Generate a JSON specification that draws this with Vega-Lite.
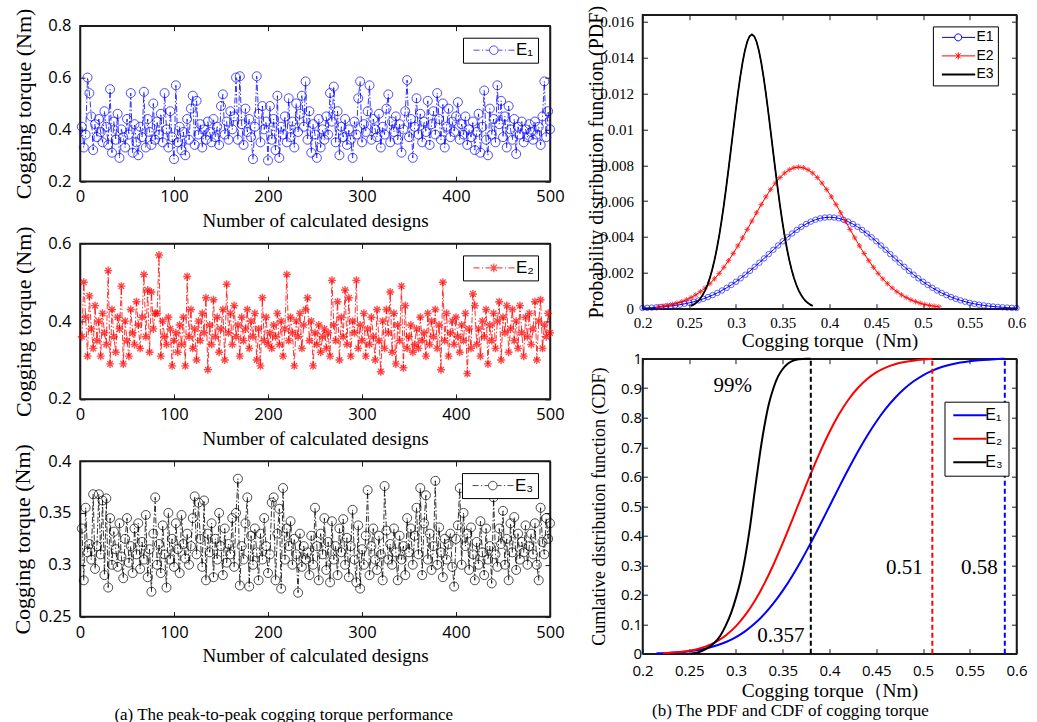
{
"$schema": "https://vega.github.io/schema/vega-lite/v6.json",
"background": "white",
"padding": {"left": 10, "top": 3.7, "right": 0, "bottom": 0},
"spacing": 20.5,
"resolve": {"scale": {"color": "independent"}, "legend": {"color": "independent"}},
"hconcat": [
{
"bounds": "flush",
"spacing": 10,
"resolve": {"scale": {"color": "independent"}, "legend": {"color": "independent"}},
"title": {"text": "(a) The peak-to-peak cogging torque performance", "orient": "bottom", "anchor": "middle", "offset": 40, "dx": -4, "fontSize": 17},
"vconcat": [
{"width": 470, "height": 1, "data": {"values": []}, "mark": "point", "view": {"stroke": null}},
{
"bounds": "flush",
"spacing": 61.7,
"resolve": {"scale": {"color": "independent"}, "legend": {"color": "independent"}},
"vconcat": [
{
"width": 470, "height": 155.5,
"data": {"name": "e1"},
"layer": [
{"mark": {"type": "line", "color": "#0000ff", "strokeWidth": 0.8, "strokeDash": [6, 2, 1.5, 2]},
"encoding": {
"x": {"field": "i", "type": "quantitative", "scale": {"domain": [0, 500], "nice": false}, "axis": {"values": [0, 100, 200, 300, 400, 500], "title": "Number of calculated designs"}},
"y": {"field": "v", "type": "quantitative", "scale": {"domain": [0.2, 0.8], "nice": false, "zero": false}, "axis": {"values": [0.2, 0.4, 0.6, 0.8], "title": "Cogging torque (Nm)", "titleFontSize": 22, "titlePadding": 12}}}},
{"mark": {"type": "point", "shape": "circle", "filled": false, "size": 81, "strokeWidth": 1},
"encoding": {
"x": {"field": "i", "type": "quantitative", "axis": {"orient": "top", "values": [0, 100, 200, 300, 400, 500], "labels": false, "title": null}},
"y": {"field": "v", "type": "quantitative", "axis": {"orient": "right", "values": [0.2, 0.4, 0.6, 0.8], "labels": false, "title": null}},
"color": {"datum": "E₁", "type": "nominal", "scale": {"range": ["#0000ff"]}, "legend": {"title": null, "symbolType": "M-1,0H2M3.2,0H3.8M5,0H7M7,0A2.15,2.15 0 1,1 11.3,0A2.15,2.15 0 1,1 7,0M11.3,0H13.5M14.7,0H15.3M16.5,0H19.5"}}}}
],
"resolve": {"axis": {"x": "independent", "y": "independent"}}
},
{
"width": 470, "height": 155.5,
"data": {"name": "e2"},
"layer": [
{"mark": {"type": "line", "color": "#ff0000", "strokeWidth": 0.8, "strokeDash": [6, 2, 1.5, 2]},
"encoding": {
"x": {"field": "i", "type": "quantitative", "scale": {"domain": [0, 500], "nice": false}, "axis": {"values": [0, 100, 200, 300, 400, 500], "title": "Number of calculated designs"}},
"y": {"field": "v", "type": "quantitative", "scale": {"domain": [0.2, 0.6], "nice": false, "zero": false}, "axis": {"values": [0.2, 0.4, 0.6], "title": "Cogging torque (Nm)", "titleFontSize": 22, "titlePadding": 12}}}},
{"mark": {"type": "point", "shape": "M-1,0H1M0,-1V1M-0.71,-0.71L0.71,0.71M-0.71,0.71L0.71,-0.71", "filled": false, "size": 64, "strokeWidth": 1.4},
"encoding": {
"x": {"field": "i", "type": "quantitative", "axis": {"orient": "top", "values": [0, 100, 200, 300, 400, 500], "labels": false, "title": null}},
"y": {"field": "v", "type": "quantitative", "axis": {"orient": "right", "values": [0.2, 0.4, 0.6], "labels": false, "title": null}},
"color": {"datum": "E₂", "type": "nominal", "scale": {"range": ["#ff0000"]}, "legend": {"title": null, "symbolStrokeWidth": 1.2, "symbolType": "M-1,0H2M3.2,0H3.8M5,0H11.3M9.15,-2.2V2.2M7.6,-1.55L10.7,1.55M7.6,1.55L10.7,-1.55M11.3,0H13.5M14.7,0H15.3M16.5,0H19.5"}}}}
],
"resolve": {"axis": {"x": "independent", "y": "independent"}}
},
{
"width": 470, "height": 155.5,
"data": {"name": "e3"},
"layer": [
{"mark": {"type": "line", "color": "#000000", "strokeWidth": 0.8, "strokeDash": [6, 2, 1.5, 2]},
"encoding": {
"x": {"field": "i", "type": "quantitative", "scale": {"domain": [0, 500], "nice": false}, "axis": {"values": [0, 100, 200, 300, 400, 500], "title": "Number of calculated designs"}},
"y": {"field": "v", "type": "quantitative", "scale": {"domain": [0.25, 0.4], "nice": false, "zero": false}, "axis": {"values": [0.25, 0.3, 0.35, 0.4], "title": "Cogging torque (Nm)", "titleFontSize": 22, "titlePadding": 4}}}},
{"mark": {"type": "point", "shape": "circle", "filled": false, "size": 81, "strokeWidth": 1},
"encoding": {
"x": {"field": "i", "type": "quantitative", "axis": {"orient": "top", "values": [0, 100, 200, 300, 400, 500], "labels": false, "title": null}},
"y": {"field": "v", "type": "quantitative", "axis": {"orient": "right", "values": [0.25, 0.3, 0.35, 0.4], "labels": false, "title": null}},
"color": {"datum": "E₃", "type": "nominal", "scale": {"range": ["#000000"]}, "legend": {"title": null, "symbolType": "M-1,0H2M3.2,0H3.8M5,0H7M7,0A2.15,2.15 0 1,1 11.3,0A2.15,2.15 0 1,1 7,0M11.3,0H13.5M14.7,0H15.3M16.5,0H19.5"}}}}
],
"resolve": {"axis": {"x": "independent", "y": "independent"}}
}
]
}
]
},
{
"bounds": "flush",
"spacing": 50,
"resolve": {"scale": {"color": "independent"}, "legend": {"color": "independent"}},
"title": {"text": "(b) The PDF and CDF of cogging torque", "orient": "bottom", "anchor": "middle", "offset": 3, "dx": -16.5, "fontSize": 17},
"vconcat": [
{
"width": 374, "height": 294,
"data": {"name": "pdf"},
"layer": [
{"mark": {"type": "line", "strokeWidth": 1},
"encoding": {
"x": {"field": "x", "type": "quantitative", "scale": {"domain": [0.2, 0.6], "nice": false, "zero": false}, "axis": {"values": [0.2, 0.25, 0.3, 0.35, 0.4, 0.45, 0.5, 0.55, 0.6], "labelFont": "Liberation Serif", "labelFontSize": 15, "labelPadding": 12, "title": "Cogging torque（Nm)", "titleFontSize": 19.5, "titlePadding": 1}},
"y": {"field": "p", "type": "quantitative", "scale": {"domain": [0, 0.0164], "nice": false}, "axis": {"values": [0, 0.002, 0.004, 0.006, 0.008, 0.01, 0.012, 0.014, 0.016], "labelFont": "Liberation Serif", "labelFontSize": 15, "labelPadding": 14, "title": "Probability distribution function (PDF)", "titleFontSize": 20, "titlePadding": -7}},
"color": {"field": "s", "type": "nominal", "scale": {"domain": ["E1", "E2", "E3"], "range": ["#0000ff", "#ff0000", "#000000"]},
"legend": {"title": null, "orient": "none", "legendX": 290.4, "legendY": 11.7, "padding": 4, "rowPadding": 4.5, "labelFontSize": 14, "labelOffset": 25.6, "symbolSize": 16,
"labelExpr": "datum.label + '     '",
"encode": {"symbols": {"update": {"shape": {"signal": "datum.value === 'E1' ? 'M-1,0H5.4M5.4,0A1.75,1.75 0 1,1 8.9,0A1.75,1.75 0 1,1 5.4,0M8.9,0H15.65' : datum.value === 'E2' ? 'M-1,0H15.65M7.15,-1.8V1.8M5.9,-1.25L8.4,1.25M5.9,1.25L8.4,-1.25' : 'M-1,0H15.65'"}, "strokeWidth": {"signal": "datum.value === 'E3' ? 2 : 1"}, "fill": {"value": "transparent"}}}}}}}},
{"transform": [{"filter": "datum.s === 'E1'"}],
"mark": {"type": "point", "shape": "circle", "filled": false, "size": 30, "strokeWidth": 0.9, "color": "#0000ff"},
"encoding": {
"x": {"field": "x", "type": "quantitative", "axis": {"orient": "top", "values": [0.2, 0.25, 0.3, 0.35, 0.4, 0.45, 0.5, 0.55, 0.6], "labels": false, "title": null}},
"y": {"field": "p", "type": "quantitative", "axis": {"orient": "right", "values": [0, 0.002, 0.004, 0.006, 0.008, 0.01, 0.012, 0.014, 0.016], "labels": false, "title": null}}}},
{"transform": [{"filter": "datum.s === 'E2'"}],
"mark": {"type": "point", "shape": "M-1,0H1M0,-1V1M-0.71,-0.71L0.71,0.71M-0.71,0.71L0.71,-0.71", "filled": false, "size": 30, "strokeWidth": 1, "color": "#ff0000"},
"encoding": {
"x": {"field": "x", "type": "quantitative", "axis": null},
"y": {"field": "p", "type": "quantitative", "axis": null}}},
{"transform": [{"filter": "datum.s === 'E3'"}],
"mark": {"type": "line", "color": "#000000", "strokeWidth": 1.8},
"encoding": {
"x": {"field": "x", "type": "quantitative", "axis": null},
"y": {"field": "p", "type": "quantitative", "axis": null}}}
],
"resolve": {"axis": {"x": "independent", "y": "independent"}}
},
{
"width": 374, "height": 295,
"layer": [
{"data": {"name": "cdf"},
"mark": {"type": "line", "strokeWidth": 2, "interpolate": "monotone"},
"encoding": {
"x": {"field": "x", "type": "quantitative", "scale": {"domain": [0.2, 0.6], "nice": false, "zero": false}, "axis": {"values": [0.2, 0.25, 0.3, 0.35, 0.4, 0.45, 0.5, 0.55, 0.6], "labelFontSize": 15, "labelPadding": 15, "title": "Cogging torque（Nm)", "titleFontSize": 19.5, "titlePadding": 2.5}},
"y": {"field": "c", "type": "quantitative", "scale": {"domain": [0, 1], "nice": false}, "axis": {"values": [0, 0.1, 0.2, 0.3, 0.4, 0.5, 0.6, 0.7, 0.8, 0.9, 1], "labelFontSize": 15, "labelPadding": 6, "title": "Cumlative distribution function (CDF)", "titleFontSize": 18, "titlePadding": 12}},
"color": {"field": "s", "type": "nominal", "scale": {"domain": ["E1", "E2", "E3"], "range": ["#0000ff", "#ff0000", "#000000"]},
"legend": {"title": null, "orient": "none", "legendX": 302, "legendY": 43, "padding": 5.5, "rowPadding": 7.5, "labelFontSize": 16, "labelOffset": 19.3, "symbolSize": 16, "symbolType": "M-2.35,0H14.3", "symbolStrokeWidth": 2,
"labelExpr": "datum.label === 'E1' ? 'E₁' : datum.label === 'E2' ? 'E₂' : 'E₃'"}}}},
{"data": {"name": "vl"},
"mark": {"type": "rule", "strokeWidth": 2, "strokeDash": [5, 3]},
"encoding": {
"x": {"field": "x", "type": "quantitative", "axis": null},
"y": {"datum": 0, "type": "quantitative", "axis": null},
"y2": {"datum": 1},
"color": {"field": "s", "type": "nominal"}}},
{"data": {"name": "ann"},
"mark": {"type": "text", "font": "Liberation Serif", "fontSize": 21, "color": "#000000"},
"encoding": {
"x": {"field": "x", "type": "quantitative", "axis": {"orient": "top", "values": [0.2, 0.25, 0.3, 0.35, 0.4, 0.45, 0.5, 0.55, 0.6], "labels": false, "title": null}},
"y": {"field": "y", "type": "quantitative", "axis": {"orient": "right", "values": [0, 0.1, 0.2, 0.3, 0.4, 0.5, 0.6, 0.7, 0.8, 0.9, 1], "labels": false, "title": null}},
"text": {"field": "t"}}}
],
"resolve": {"axis": {"x": "independent", "y": "independent"}}
}
]
}
],
"datasets": {
"e1": [
{"i":2,"v":0.41},{"i":4,"v":0.33},{"i":6,"v":0.38},{"i":8,"v":0.6},{"i":10,"v":0.54},{"i":12,"v":0.45},{"i":14,"v":0.32},{"i":16,"v":0.42},{"i":18,"v":0.37},{"i":20,"v":0.44},
{"i":22,"v":0.39},{"i":24,"v":0.35},{"i":26,"v":0.47},{"i":28,"v":0.41},{"i":30,"v":0.34},{"i":32,"v":0.555},{"i":34,"v":0.31},{"i":36,"v":0.43},{"i":38,"v":0.36},{"i":40,"v":0.46},
{"i":42,"v":0.29},{"i":44,"v":0.4},{"i":46,"v":0.37},{"i":48,"v":0.33},{"i":50,"v":0.44},{"i":52,"v":0.38},{"i":54,"v":0.54},{"i":56,"v":0.31},{"i":58,"v":0.42},{"i":60,"v":0.35},
{"i":62,"v":0.3},{"i":64,"v":0.41},{"i":66,"v":0.37},{"i":68,"v":0.545},{"i":70,"v":0.33},{"i":72,"v":0.44},{"i":74,"v":0.39},{"i":76,"v":0.34},{"i":78,"v":0.5},{"i":80,"v":0.36},
{"i":82,"v":0.43},{"i":84,"v":0.38},{"i":86,"v":0.46},{"i":88,"v":0.35},{"i":90,"v":0.54},{"i":92,"v":0.4},{"i":94,"v":0.33},{"i":96,"v":0.47},{"i":98,"v":0.37},{"i":100,"v":0.285},
{"i":102,"v":0.57},{"i":104,"v":0.35},{"i":106,"v":0.41},{"i":108,"v":0.32},{"i":110,"v":0.39},{"i":112,"v":0.3},{"i":114,"v":0.44},{"i":116,"v":0.36},{"i":118,"v":0.48},{"i":120,"v":0.53},
{"i":122,"v":0.34},{"i":124,"v":0.51},{"i":126,"v":0.38},{"i":128,"v":0.42},{"i":130,"v":0.33},{"i":132,"v":0.4},{"i":134,"v":0.36},{"i":136,"v":0.43},{"i":138,"v":0.39},{"i":140,"v":0.35},
{"i":142,"v":0.44},{"i":144,"v":0.37},{"i":146,"v":0.41},{"i":148,"v":0.34},{"i":150,"v":0.49},{"i":152,"v":0.535},{"i":154,"v":0.38},{"i":156,"v":0.43},{"i":158,"v":0.36},{"i":160,"v":0.47},
{"i":162,"v":0.4},{"i":164,"v":0.45},{"i":166,"v":0.6},{"i":168,"v":0.36},{"i":170,"v":0.605},{"i":172,"v":0.42},{"i":174,"v":0.34},{"i":176,"v":0.48},{"i":178,"v":0.39},{"i":180,"v":0.44},
{"i":182,"v":0.37},{"i":184,"v":0.285},{"i":186,"v":0.41},{"i":188,"v":0.605},{"i":190,"v":0.46},{"i":192,"v":0.35},{"i":194,"v":0.49},{"i":196,"v":0.4},{"i":198,"v":0.43},{"i":200,"v":0.28},
{"i":202,"v":0.49},{"i":204,"v":0.36},{"i":206,"v":0.44},{"i":208,"v":0.32},{"i":210,"v":0.53},{"i":212,"v":0.29},{"i":214,"v":0.41},{"i":216,"v":0.38},{"i":218,"v":0.45},{"i":220,"v":0.35},
{"i":222,"v":0.52},{"i":224,"v":0.37},{"i":226,"v":0.43},{"i":228,"v":0.33},{"i":230,"v":0.5},{"i":232,"v":0.39},{"i":234,"v":0.46},{"i":236,"v":0.53},{"i":238,"v":0.41},{"i":240,"v":0.585},
{"i":242,"v":0.36},{"i":244,"v":0.47},{"i":246,"v":0.31},{"i":248,"v":0.42},{"i":250,"v":0.38},{"i":252,"v":0.29},{"i":254,"v":0.44},{"i":256,"v":0.33},{"i":258,"v":0.4},{"i":260,"v":0.36},
{"i":262,"v":0.45},{"i":264,"v":0.38},{"i":266,"v":0.54},{"i":268,"v":0.43},{"i":270,"v":0.565},{"i":272,"v":0.35},{"i":274,"v":0.47},{"i":276,"v":0.3},{"i":278,"v":0.41},{"i":280,"v":0.37},
{"i":282,"v":0.44},{"i":284,"v":0.34},{"i":286,"v":0.4},{"i":288,"v":0.36},{"i":290,"v":0.29},{"i":292,"v":0.43},{"i":294,"v":0.38},{"i":296,"v":0.52},{"i":298,"v":0.585},{"i":300,"v":0.35},
{"i":302,"v":0.42},{"i":304,"v":0.39},{"i":306,"v":0.47},{"i":308,"v":0.57},{"i":310,"v":0.36},{"i":312,"v":0.44},{"i":314,"v":0.4},{"i":316,"v":0.37},{"i":318,"v":0.46},{"i":320,"v":0.33},
{"i":322,"v":0.41},{"i":324,"v":0.38},{"i":326,"v":0.48},{"i":328,"v":0.535},{"i":330,"v":0.35},{"i":332,"v":0.43},{"i":334,"v":0.39},{"i":336,"v":0.45},{"i":338,"v":0.36},{"i":340,"v":0.42},
{"i":342,"v":0.31},{"i":344,"v":0.4},{"i":346,"v":0.47},{"i":348,"v":0.59},{"i":350,"v":0.37},{"i":352,"v":0.44},{"i":354,"v":0.29},{"i":356,"v":0.41},{"i":358,"v":0.52},{"i":360,"v":0.38},
{"i":362,"v":0.46},{"i":364,"v":0.35},{"i":366,"v":0.43},{"i":368,"v":0.39},{"i":370,"v":0.51},{"i":372,"v":0.34},{"i":374,"v":0.42},{"i":376,"v":0.47},{"i":378,"v":0.38},{"i":380,"v":0.54},
{"i":382,"v":0.44},{"i":384,"v":0.36},{"i":386,"v":0.5},{"i":388,"v":0.33},{"i":390,"v":0.41},{"i":392,"v":0.48},{"i":394,"v":0.37},{"i":396,"v":0.43},{"i":398,"v":0.39},{"i":400,"v":0.45},
{"i":402,"v":0.505},{"i":404,"v":0.36},{"i":406,"v":0.42},{"i":408,"v":0.38},{"i":410,"v":0.45},{"i":412,"v":0.34},{"i":414,"v":0.4},{"i":416,"v":0.37},{"i":418,"v":0.43},{"i":420,"v":0.32},
{"i":422,"v":0.39},{"i":424,"v":0.46},{"i":426,"v":0.31},{"i":428,"v":0.41},{"i":430,"v":0.55},{"i":432,"v":0.36},{"i":434,"v":0.3},{"i":436,"v":0.48},{"i":438,"v":0.38},{"i":440,"v":0.44},
{"i":442,"v":0.35},{"i":444,"v":0.57},{"i":446,"v":0.42},{"i":448,"v":0.51},{"i":450,"v":0.37},{"i":452,"v":0.45},{"i":454,"v":0.33},{"i":456,"v":0.49},{"i":458,"v":0.4},{"i":460,"v":0.36},
{"i":462,"v":0.44},{"i":464,"v":0.305},{"i":466,"v":0.41},{"i":468,"v":0.38},{"i":470,"v":0.43},{"i":472,"v":0.35},{"i":474,"v":0.4},{"i":476,"v":0.37},{"i":478,"v":0.42},{"i":480,"v":0.39},
{"i":482,"v":0.36},{"i":484,"v":0.43},{"i":486,"v":0.38},{"i":488,"v":0.41},{"i":490,"v":0.34},{"i":492,"v":0.45},{"i":494,"v":0.585},{"i":496,"v":0.37},{"i":498,"v":0.47},{"i":500,"v":0.4}
],
"e2": [
{"i":2,"v":0.36},{"i":4,"v":0.5},{"i":6,"v":0.41},{"i":8,"v":0.31},{"i":10,"v":0.465},{"i":12,"v":0.38},{"i":14,"v":0.33},{"i":16,"v":0.44},{"i":18,"v":0.35},{"i":20,"v":0.4},
{"i":22,"v":0.31},{"i":24,"v":0.42},{"i":26,"v":0.37},{"i":28,"v":0.34},{"i":30,"v":0.53},{"i":32,"v":0.29},{"i":34,"v":0.43},{"i":36,"v":0.36},{"i":38,"v":0.32},{"i":40,"v":0.41},
{"i":42,"v":0.38},{"i":44,"v":0.49},{"i":46,"v":0.29},{"i":48,"v":0.4},{"i":50,"v":0.35},{"i":52,"v":0.31},{"i":54,"v":0.43},{"i":56,"v":0.37},{"i":58,"v":0.34},{"i":60,"v":0.45},
{"i":62,"v":0.39},{"i":64,"v":0.33},{"i":66,"v":0.41},{"i":68,"v":0.52},{"i":70,"v":0.36},{"i":72,"v":0.48},{"i":74,"v":0.32},{"i":76,"v":0.475},{"i":78,"v":0.38},{"i":80,"v":0.42},
{"i":82,"v":0.42},{"i":84,"v":0.57},{"i":86,"v":0.31},{"i":88,"v":0.4},{"i":90,"v":0.36},{"i":92,"v":0.34},{"i":94,"v":0.41},{"i":96,"v":0.38},{"i":98,"v":0.285},{"i":100,"v":0.35},
{"i":102,"v":0.37},{"i":104,"v":0.32},{"i":106,"v":0.39},{"i":108,"v":0.34},{"i":110,"v":0.41},{"i":112,"v":0.285},{"i":114,"v":0.515},{"i":116,"v":0.36},{"i":118,"v":0.43},{"i":120,"v":0.33},
{"i":122,"v":0.38},{"i":124,"v":0.3},{"i":126,"v":0.4},{"i":128,"v":0.35},{"i":130,"v":0.42},{"i":132,"v":0.37},{"i":134,"v":0.46},{"i":136,"v":0.275},{"i":138,"v":0.39},{"i":140,"v":0.34},
{"i":142,"v":0.455},{"i":144,"v":0.36},{"i":146,"v":0.41},{"i":148,"v":0.32},{"i":150,"v":0.38},{"i":152,"v":0.43},{"i":154,"v":0.3},{"i":156,"v":0.495},{"i":158,"v":0.37},{"i":160,"v":0.42},
{"i":162,"v":0.34},{"i":164,"v":0.44},{"i":166,"v":0.36},{"i":168,"v":0.39},{"i":170,"v":0.31},{"i":172,"v":0.41},{"i":174,"v":0.35},{"i":176,"v":0.38},{"i":178,"v":0.43},{"i":180,"v":0.33},
{"i":182,"v":0.4},{"i":184,"v":0.36},{"i":186,"v":0.42},{"i":188,"v":0.3},{"i":190,"v":0.38},{"i":192,"v":0.285},{"i":194,"v":0.46},{"i":196,"v":0.35},{"i":198,"v":0.41},{"i":200,"v":0.34},
{"i":202,"v":0.37},{"i":204,"v":0.33},{"i":206,"v":0.39},{"i":208,"v":0.36},{"i":210,"v":0.42},{"i":212,"v":0.34},{"i":214,"v":0.4},{"i":216,"v":0.31},{"i":218,"v":0.38},{"i":220,"v":0.52},
{"i":222,"v":0.35},{"i":224,"v":0.41},{"i":226,"v":0.37},{"i":228,"v":0.285},{"i":230,"v":0.4},{"i":232,"v":0.36},{"i":234,"v":0.42},{"i":236,"v":0.33},{"i":238,"v":0.39},{"i":240,"v":0.43},
{"i":242,"v":0.46},{"i":244,"v":0.35},{"i":246,"v":0.4},{"i":248,"v":0.285},{"i":250,"v":0.37},{"i":252,"v":0.34},{"i":254,"v":0.39},{"i":256,"v":0.32},{"i":258,"v":0.36},{"i":260,"v":0.38},
{"i":262,"v":0.33},{"i":264,"v":0.37},{"i":266,"v":0.31},{"i":268,"v":0.505},{"i":270,"v":0.39},{"i":272,"v":0.35},{"i":274,"v":0.45},{"i":276,"v":0.3},{"i":278,"v":0.41},{"i":280,"v":0.36},
{"i":282,"v":0.48},{"i":284,"v":0.34},{"i":286,"v":0.46},{"i":288,"v":0.31},{"i":290,"v":0.4},{"i":292,"v":0.37},{"i":294,"v":0.505},{"i":296,"v":0.33},{"i":298,"v":0.39},{"i":300,"v":0.35},
{"i":302,"v":0.42},{"i":304,"v":0.31},{"i":306,"v":0.38},{"i":308,"v":0.34},{"i":310,"v":0.41},{"i":312,"v":0.36},{"i":314,"v":0.3},{"i":316,"v":0.43},{"i":318,"v":0.35},{"i":320,"v":0.27},
{"i":322,"v":0.4},{"i":324,"v":0.33},{"i":326,"v":0.43},{"i":328,"v":0.37},{"i":330,"v":0.475},{"i":332,"v":0.32},{"i":334,"v":0.42},{"i":336,"v":0.29},{"i":338,"v":0.39},{"i":340,"v":0.35},
{"i":342,"v":0.49},{"i":344,"v":0.28},{"i":346,"v":0.44},{"i":348,"v":0.33},{"i":350,"v":0.36},{"i":352,"v":0.39},{"i":354,"v":0.32},{"i":356,"v":0.34},{"i":358,"v":0.38},{"i":360,"v":0.33},
{"i":362,"v":0.41},{"i":364,"v":0.35},{"i":366,"v":0.37},{"i":368,"v":0.31},{"i":370,"v":0.42},{"i":372,"v":0.34},{"i":374,"v":0.4},{"i":376,"v":0.36},{"i":378,"v":0.43},{"i":380,"v":0.33},
{"i":382,"v":0.39},{"i":384,"v":0.275},{"i":386,"v":0.5},{"i":388,"v":0.35},{"i":390,"v":0.42},{"i":392,"v":0.31},{"i":394,"v":0.37},{"i":396,"v":0.4},{"i":398,"v":0.34},{"i":400,"v":0.41},
{"i":402,"v":0.36},{"i":404,"v":0.32},{"i":406,"v":0.39},{"i":408,"v":0.35},{"i":410,"v":0.42},{"i":412,"v":0.265},{"i":414,"v":0.38},{"i":416,"v":0.33},{"i":418,"v":0.47},{"i":420,"v":0.44},
{"i":422,"v":0.34},{"i":424,"v":0.38},{"i":426,"v":0.31},{"i":428,"v":0.4},{"i":430,"v":0.36},{"i":432,"v":0.43},{"i":434,"v":0.29},{"i":436,"v":0.39},{"i":438,"v":0.35},{"i":440,"v":0.42},
{"i":442,"v":0.33},{"i":444,"v":0.4},{"i":446,"v":0.45},{"i":448,"v":0.3},{"i":450,"v":0.41},{"i":452,"v":0.37},{"i":454,"v":0.44},{"i":456,"v":0.32},{"i":458,"v":0.38},{"i":460,"v":0.43},
{"i":462,"v":0.35},{"i":464,"v":0.4},{"i":466,"v":0.33},{"i":468,"v":0.44},{"i":470,"v":0.37},{"i":472,"v":0.31},{"i":474,"v":0.41},{"i":476,"v":0.36},{"i":478,"v":0.42},{"i":480,"v":0.34},
{"i":482,"v":0.38},{"i":484,"v":0.45},{"i":486,"v":0.3},{"i":488,"v":0.4},{"i":490,"v":0.455},{"i":492,"v":0.33},{"i":494,"v":0.39},{"i":496,"v":0.36},{"i":498,"v":0.42},{"i":500,"v":0.37}
],
"e3": [
{"i":2,"v":0.335},{"i":4,"v":0.285},{"i":6,"v":0.355},{"i":8,"v":0.312},{"i":10,"v":0.32},{"i":12,"v":0.305},{"i":14,"v":0.368},{"i":16,"v":0.296},{"i":18,"v":0.318},{"i":20,"v":0.368},
{"i":22,"v":0.31},{"i":24,"v":0.362},{"i":26,"v":0.29},{"i":28,"v":0.364},{"i":30,"v":0.278},{"i":32,"v":0.345},{"i":34,"v":0.3},{"i":36,"v":0.332},{"i":38,"v":0.315},{"i":40,"v":0.298},
{"i":42,"v":0.34},{"i":44,"v":0.308},{"i":46,"v":0.287},{"i":48,"v":0.325},{"i":50,"v":0.345},{"i":52,"v":0.302},{"i":54,"v":0.318},{"i":56,"v":0.292},{"i":58,"v":0.335},{"i":60,"v":0.31},
{"i":62,"v":0.34},{"i":64,"v":0.296},{"i":66,"v":0.322},{"i":68,"v":0.305},{"i":70,"v":0.348},{"i":72,"v":0.288},{"i":74,"v":0.315},{"i":76,"v":0.274},{"i":78,"v":0.33},{"i":80,"v":0.365},
{"i":82,"v":0.3},{"i":84,"v":0.32},{"i":86,"v":0.292},{"i":88,"v":0.338},{"i":90,"v":0.31},{"i":92,"v":0.278},{"i":94,"v":0.35},{"i":96,"v":0.305},{"i":98,"v":0.325},{"i":100,"v":0.298},
{"i":102,"v":0.34},{"i":104,"v":0.315},{"i":106,"v":0.292},{"i":108,"v":0.348},{"i":110,"v":0.32},{"i":112,"v":0.306},{"i":114,"v":0.33},{"i":116,"v":0.3},{"i":118,"v":0.318},{"i":120,"v":0.345},
{"i":122,"v":0.366},{"i":124,"v":0.31},{"i":126,"v":0.36},{"i":128,"v":0.325},{"i":130,"v":0.298},{"i":132,"v":0.362},{"i":134,"v":0.285},{"i":136,"v":0.33},{"i":138,"v":0.312},{"i":140,"v":0.34},
{"i":142,"v":0.288},{"i":144,"v":0.325},{"i":146,"v":0.305},{"i":148,"v":0.35},{"i":150,"v":0.318},{"i":152,"v":0.29},{"i":154,"v":0.335},{"i":156,"v":0.302},{"i":158,"v":0.32},{"i":160,"v":0.31},
{"i":162,"v":0.345},{"i":164,"v":0.298},{"i":166,"v":0.35},{"i":168,"v":0.383},{"i":170,"v":0.28},{"i":172,"v":0.318},{"i":174,"v":0.305},{"i":176,"v":0.34},{"i":178,"v":0.365},{"i":180,"v":0.279},
{"i":182,"v":0.328},{"i":184,"v":0.3},{"i":186,"v":0.335},{"i":188,"v":0.312},{"i":190,"v":0.285},{"i":192,"v":0.33},{"i":194,"v":0.305},{"i":196,"v":0.345},{"i":198,"v":0.318},{"i":200,"v":0.292},
{"i":202,"v":0.31},{"i":204,"v":0.36},{"i":206,"v":0.365},{"i":208,"v":0.285},{"i":210,"v":0.33},{"i":212,"v":0.354},{"i":214,"v":0.277},{"i":216,"v":0.374},{"i":218,"v":0.305},{"i":220,"v":0.335},
{"i":222,"v":0.318},{"i":224,"v":0.342},{"i":226,"v":0.3},{"i":228,"v":0.325},{"i":230,"v":0.31},{"i":232,"v":0.273},{"i":234,"v":0.33},{"i":236,"v":0.298},{"i":238,"v":0.318},{"i":240,"v":0.305},
{"i":242,"v":0.312},{"i":244,"v":0.29},{"i":246,"v":0.328},{"i":248,"v":0.3},{"i":250,"v":0.355},{"i":252,"v":0.318},{"i":254,"v":0.285},{"i":256,"v":0.33},{"i":258,"v":0.31},{"i":260,"v":0.345},
{"i":262,"v":0.295},{"i":264,"v":0.322},{"i":266,"v":0.283},{"i":268,"v":0.342},{"i":270,"v":0.305},{"i":272,"v":0.318},{"i":274,"v":0.29},{"i":276,"v":0.335},{"i":278,"v":0.312},{"i":280,"v":0.344},
{"i":282,"v":0.3},{"i":284,"v":0.326},{"i":286,"v":0.288},{"i":288,"v":0.318},{"i":290,"v":0.353},{"i":292,"v":0.305},{"i":294,"v":0.283},{"i":296,"v":0.338},{"i":298,"v":0.277},{"i":300,"v":0.315},
{"i":302,"v":0.3},{"i":304,"v":0.328},{"i":306,"v":0.372},{"i":308,"v":0.29},{"i":310,"v":0.318},{"i":312,"v":0.335},{"i":314,"v":0.305},{"i":316,"v":0.295},{"i":318,"v":0.328},{"i":320,"v":0.31},
{"i":322,"v":0.285},{"i":324,"v":0.376},{"i":326,"v":0.333},{"i":328,"v":0.305},{"i":330,"v":0.32},{"i":332,"v":0.3},{"i":334,"v":0.335},{"i":336,"v":0.312},{"i":338,"v":0.285},{"i":340,"v":0.328},
{"i":342,"v":0.305},{"i":344,"v":0.318},{"i":346,"v":0.29},{"i":348,"v":0.345},{"i":350,"v":0.312},{"i":352,"v":0.335},{"i":354,"v":0.3},{"i":356,"v":0.328},{"i":358,"v":0.355},{"i":360,"v":0.31},
{"i":362,"v":0.374},{"i":364,"v":0.29},{"i":366,"v":0.34},{"i":368,"v":0.367},{"i":370,"v":0.305},{"i":372,"v":0.33},{"i":374,"v":0.295},{"i":376,"v":0.318},{"i":378,"v":0.381},{"i":380,"v":0.3},
{"i":382,"v":0.336},{"i":384,"v":0.312},{"i":386,"v":0.288},{"i":388,"v":0.325},{"i":390,"v":0.305},{"i":392,"v":0.32},{"i":394,"v":0.33},{"i":396,"v":0.298},{"i":398,"v":0.279},{"i":400,"v":0.325},
{"i":402,"v":0.338},{"i":404,"v":0.374},{"i":406,"v":0.3},{"i":408,"v":0.35},{"i":410,"v":0.318},{"i":412,"v":0.33},{"i":414,"v":0.295},{"i":416,"v":0.336},{"i":418,"v":0.31},{"i":420,"v":0.285},
{"i":422,"v":0.322},{"i":424,"v":0.3},{"i":426,"v":0.342},{"i":428,"v":0.312},{"i":430,"v":0.29},{"i":432,"v":0.335},{"i":434,"v":0.305},{"i":436,"v":0.318},{"i":438,"v":0.282},{"i":440,"v":0.365},
{"i":442,"v":0.31},{"i":444,"v":0.298},{"i":446,"v":0.335},{"i":448,"v":0.32},{"i":450,"v":0.352},{"i":452,"v":0.3},{"i":454,"v":0.325},{"i":456,"v":0.285},{"i":458,"v":0.34},{"i":460,"v":0.312},
{"i":462,"v":0.346},{"i":464,"v":0.295},{"i":466,"v":0.33},{"i":468,"v":0.305},{"i":470,"v":0.322},{"i":472,"v":0.312},{"i":474,"v":0.338},{"i":476,"v":0.3},{"i":478,"v":0.318},{"i":480,"v":0.33},
{"i":482,"v":0.31},{"i":484,"v":0.34},{"i":486,"v":0.3},{"i":488,"v":0.285},{"i":490,"v":0.355},{"i":492,"v":0.322},{"i":494,"v":0.31},{"i":496,"v":0.345},{"i":498,"v":0.325},{"i":500,"v":0.34}
],
"pdf": [
{"s":"E1","x":0.2,"p":0.000039},{"s":"E1","x":0.205,"p":0.000049},{"s":"E1","x":0.21,"p":0.000062},{"s":"E1","x":0.215,"p":0.000078},{"s":"E1","x":0.22,"p":0.000098},{"s":"E1","x":0.225,"p":0.000121},{"s":"E1","x":0.23,"p":0.00015},{"s":"E1","x":0.235,"p":0.000184},{"s":"E1","x":0.24,"p":0.000224},{"s":"E1","x":0.245,"p":0.000272},
{"s":"E1","x":0.25,"p":0.000327},{"s":"E1","x":0.255,"p":0.000392},{"s":"E1","x":0.26,"p":0.000466},{"s":"E1","x":0.265,"p":0.000551},{"s":"E1","x":0.27,"p":0.000648},{"s":"E1","x":0.275,"p":0.000757},{"s":"E1","x":0.28,"p":0.000879},{"s":"E1","x":0.285,"p":0.001015},{"s":"E1","x":0.29,"p":0.001164},{"s":"E1","x":0.295,"p":0.001328},
{"s":"E1","x":0.3,"p":0.001505},{"s":"E1","x":0.305,"p":0.001695},{"s":"E1","x":0.31,"p":0.001897},{"s":"E1","x":0.315,"p":0.002111},{"s":"E1","x":0.32,"p":0.002335},{"s":"E1","x":0.325,"p":0.002567},{"s":"E1","x":0.33,"p":0.002804},{"s":"E1","x":0.335,"p":0.003045},{"s":"E1","x":0.34,"p":0.003286},{"s":"E1","x":0.345,"p":0.003525},
{"s":"E1","x":0.35,"p":0.003759},{"s":"E1","x":0.355,"p":0.003983},{"s":"E1","x":0.36,"p":0.004195},{"s":"E1","x":0.365,"p":0.004392},{"s":"E1","x":0.37,"p":0.004569},{"s":"E1","x":0.375,"p":0.004725},{"s":"E1","x":0.38,"p":0.004857},{"s":"E1","x":0.385,"p":0.004962},{"s":"E1","x":0.39,"p":0.005038},{"s":"E1","x":0.395,"p":0.005084},
{"s":"E1","x":0.4,"p":0.0051},{"s":"E1","x":0.405,"p":0.005084},{"s":"E1","x":0.41,"p":0.005038},{"s":"E1","x":0.415,"p":0.004962},{"s":"E1","x":0.42,"p":0.004857},{"s":"E1","x":0.425,"p":0.004725},{"s":"E1","x":0.43,"p":0.004569},{"s":"E1","x":0.435,"p":0.004392},{"s":"E1","x":0.44,"p":0.004195},{"s":"E1","x":0.445,"p":0.003983},
{"s":"E1","x":0.45,"p":0.003759},{"s":"E1","x":0.455,"p":0.003525},{"s":"E1","x":0.46,"p":0.003286},{"s":"E1","x":0.465,"p":0.003045},{"s":"E1","x":0.47,"p":0.002804},{"s":"E1","x":0.475,"p":0.002567},{"s":"E1","x":0.48,"p":0.002335},{"s":"E1","x":0.485,"p":0.002111},{"s":"E1","x":0.49,"p":0.001897},{"s":"E1","x":0.495,"p":0.001695},
{"s":"E1","x":0.5,"p":0.001505},{"s":"E1","x":0.505,"p":0.001328},{"s":"E1","x":0.51,"p":0.001164},{"s":"E1","x":0.515,"p":0.001015},{"s":"E1","x":0.52,"p":0.000879},{"s":"E1","x":0.525,"p":0.000757},{"s":"E1","x":0.53,"p":0.000648},{"s":"E1","x":0.535,"p":0.000551},{"s":"E1","x":0.54,"p":0.000466},{"s":"E1","x":0.545,"p":0.000392},
{"s":"E1","x":0.55,"p":0.000327},{"s":"E1","x":0.555,"p":0.000272},{"s":"E1","x":0.56,"p":0.000224},{"s":"E1","x":0.565,"p":0.000184},{"s":"E1","x":0.57,"p":0.00015},{"s":"E1","x":0.575,"p":0.000121},{"s":"E1","x":0.58,"p":0.000098},{"s":"E1","x":0.585,"p":0.000078},{"s":"E1","x":0.59,"p":0.000062},{"s":"E1","x":0.595,"p":0.000049},{"s":"E1","x":0.6,"p":0.000039},
{"s":"E2","x":0.217,"p":0.000105},{"s":"E2","x":0.222,"p":0.000139},{"s":"E2","x":0.227,"p":0.000182},{"s":"E2","x":0.232,"p":0.000238},{"s":"E2","x":0.237,"p":0.000307},{"s":"E2","x":0.242,"p":0.000392},{"s":"E2","x":0.247,"p":0.000496},{"s":"E2","x":0.252,"p":0.000622},{"s":"E2","x":0.257,"p":0.000772},{"s":"E2","x":0.262,"p":0.000949},
{"s":"E2","x":0.267,"p":0.001155},{"s":"E2","x":0.272,"p":0.001394},{"s":"E2","x":0.277,"p":0.001665},{"s":"E2","x":0.282,"p":0.00197},{"s":"E2","x":0.287,"p":0.002309},{"s":"E2","x":0.292,"p":0.002679},{"s":"E2","x":0.297,"p":0.00308},{"s":"E2","x":0.302,"p":0.003507},{"s":"E2","x":0.307,"p":0.003954},{"s":"E2","x":0.312,"p":0.004417},
{"s":"E2","x":0.317,"p":0.004886},{"s":"E2","x":0.322,"p":0.005353},{"s":"E2","x":0.327,"p":0.005808},{"s":"E2","x":0.332,"p":0.006243},{"s":"E2","x":0.337,"p":0.006645},{"s":"E2","x":0.342,"p":0.007006},{"s":"E2","x":0.347,"p":0.007315},{"s":"E2","x":0.352,"p":0.007566},{"s":"E2","x":0.357,"p":0.00775},{"s":"E2","x":0.362,"p":0.007862},
{"s":"E2","x":0.367,"p":0.0079},{"s":"E2","x":0.372,"p":0.007862},{"s":"E2","x":0.377,"p":0.00775},{"s":"E2","x":0.382,"p":0.007566},{"s":"E2","x":0.387,"p":0.007315},{"s":"E2","x":0.392,"p":0.007006},{"s":"E2","x":0.397,"p":0.006645},{"s":"E2","x":0.402,"p":0.006243},{"s":"E2","x":0.407,"p":0.005808},{"s":"E2","x":0.412,"p":0.005353},
{"s":"E2","x":0.417,"p":0.004886},{"s":"E2","x":0.422,"p":0.004417},{"s":"E2","x":0.427,"p":0.003954},{"s":"E2","x":0.432,"p":0.003507},{"s":"E2","x":0.437,"p":0.00308},{"s":"E2","x":0.442,"p":0.002679},{"s":"E2","x":0.447,"p":0.002309},{"s":"E2","x":0.452,"p":0.00197},{"s":"E2","x":0.457,"p":0.001665},{"s":"E2","x":0.462,"p":0.001394},
{"s":"E2","x":0.467,"p":0.001155},{"s":"E2","x":0.472,"p":0.000949},{"s":"E2","x":0.477,"p":0.000772},{"s":"E2","x":0.482,"p":0.000622},{"s":"E2","x":0.487,"p":0.000496},{"s":"E2","x":0.492,"p":0.000392},{"s":"E2","x":0.497,"p":0.000307},{"s":"E2","x":0.502,"p":0.000238},{"s":"E2","x":0.507,"p":0.000182},{"s":"E2","x":0.512,"p":0.000139},{"s":"E2","x":0.517,"p":0.000105},
{"s":"E3","x":0.252,"p":0.000159},{"s":"E3","x":0.2545,"p":0.000224},{"s":"E3","x":0.257,"p":0.000312},{"s":"E3","x":0.2595,"p":0.000428},{"s":"E3","x":0.262,"p":0.00058},{"s":"E3","x":0.2645,"p":0.000776},{"s":"E3","x":0.267,"p":0.001024},{"s":"E3","x":0.2695,"p":0.001333},{"s":"E3","x":0.272,"p":0.001712},{"s":"E3","x":0.2745,"p":0.002168},
{"s":"E3","x":0.277,"p":0.002711},{"s":"E3","x":0.2795,"p":0.003343},{"s":"E3","x":0.282,"p":0.004067},{"s":"E3","x":0.2845,"p":0.004881},{"s":"E3","x":0.287,"p":0.00578},{"s":"E3","x":0.2895,"p":0.006752},{"s":"E3","x":0.292,"p":0.007782},{"s":"E3","x":0.2945,"p":0.008849},{"s":"E3","x":0.297,"p":0.009927},{"s":"E3","x":0.2995,"p":0.010986},
{"s":"E3","x":0.302,"p":0.011995},{"s":"E3","x":0.3045,"p":0.012921},{"s":"E3","x":0.307,"p":0.013731},{"s":"E3","x":0.3095,"p":0.014397},{"s":"E3","x":0.312,"p":0.014892},{"s":"E3","x":0.3145,"p":0.015197},{"s":"E3","x":0.317,"p":0.0153},{"s":"E3","x":0.3195,"p":0.015197},{"s":"E3","x":0.322,"p":0.014892},{"s":"E3","x":0.3245,"p":0.014397},
{"s":"E3","x":0.327,"p":0.013731},{"s":"E3","x":0.3295,"p":0.012921},{"s":"E3","x":0.332,"p":0.011995},{"s":"E3","x":0.3345,"p":0.010986},{"s":"E3","x":0.337,"p":0.009927},{"s":"E3","x":0.3395,"p":0.008849},{"s":"E3","x":0.342,"p":0.007782},{"s":"E3","x":0.3445,"p":0.006752},{"s":"E3","x":0.347,"p":0.00578},{"s":"E3","x":0.3495,"p":0.004881},
{"s":"E3","x":0.352,"p":0.004067},{"s":"E3","x":0.3545,"p":0.003343},{"s":"E3","x":0.357,"p":0.002711},{"s":"E3","x":0.3595,"p":0.002168},{"s":"E3","x":0.362,"p":0.001712},{"s":"E3","x":0.3645,"p":0.001333},{"s":"E3","x":0.367,"p":0.001024},{"s":"E3","x":0.3695,"p":0.000776},{"s":"E3","x":0.372,"p":0.00058},{"s":"E3","x":0.3745,"p":0.000428},
{"s":"E3","x":0.377,"p":0.000312},{"s":"E3","x":0.3795,"p":0.000224},{"s":"E3","x":0.382,"p":0.000159}
],
"cdf": [
{"s":"E1","x":0.215,"c":0.0017},{"s":"E1","x":0.23,"c":0.0035},{"s":"E1","x":0.25,"c":0.0086},{"s":"E1","x":0.27,"c":0.0196},{"s":"E1","x":0.28,"c":0.0284},{"s":"E1","x":0.29,"c":0.0404},{"s":"E1","x":0.3,"c":0.0562},{"s":"E1","x":0.31,"c":0.0766},{"s":"E1","x":0.32,"c":0.1021},{"s":"E1","x":0.33,"c":0.1333},
{"s":"E1","x":0.34,"c":0.1705},{"s":"E1","x":0.35,"c":0.2137},{"s":"E1","x":0.36,"c":0.2627},{"s":"E1","x":0.37,"c":0.317},{"s":"E1","x":0.38,"c":0.3756},{"s":"E1","x":0.39,"c":0.4369},{"s":"E1","x":0.4,"c":0.5},{"s":"E1","x":0.41,"c":0.5631},{"s":"E1","x":0.42,"c":0.6244},{"s":"E1","x":0.43,"c":0.683},
{"s":"E1","x":0.44,"c":0.7373},{"s":"E1","x":0.45,"c":0.7863},{"s":"E1","x":0.46,"c":0.8295},{"s":"E1","x":0.47,"c":0.8667},{"s":"E1","x":0.48,"c":0.8979},{"s":"E1","x":0.49,"c":0.9234},{"s":"E1","x":0.5,"c":0.9438},{"s":"E1","x":0.51,"c":0.9596},{"s":"E1","x":0.52,"c":0.9716},{"s":"E1","x":0.53,"c":0.9804},
{"s":"E1","x":0.54,"c":0.9869},{"s":"E1","x":0.55,"c":0.9914},{"s":"E1","x":0.56,"c":0.9945},{"s":"E1","x":0.57,"c":0.9968},{"s":"E1","x":0.58,"c":0.9987},{"s":"E1","x":0.5875,"c":1},
{"s":"E2","x":0.222,"c":0.002},{"s":"E2","x":0.24,"c":0.0059},{"s":"E2","x":0.26,"c":0.017},{"s":"E2","x":0.27,"c":0.0274},{"s":"E2","x":0.28,"c":0.0427},{"s":"E2","x":0.29,"c":0.0643},{"s":"E2","x":0.3,"c":0.0934},{"s":"E2","x":0.31,"c":0.1314},{"s":"E2","x":0.32,"c":0.1788},{"s":"E2","x":0.33,"c":0.2358},
{"s":"E2","x":0.34,"c":0.3015},{"s":"E2","x":0.35,"c":0.3745},{"s":"E2","x":0.36,"c":0.4522},{"s":"E2","x":0.37,"c":0.5319},{"s":"E2","x":0.38,"c":0.6103},{"s":"E2","x":0.39,"c":0.6844},{"s":"E2","x":0.4,"c":0.7517},{"s":"E2","x":0.41,"c":0.8106},{"s":"E2","x":0.42,"c":0.8599},{"s":"E2","x":0.43,"c":0.8997},
{"s":"E2","x":0.44,"c":0.9306},{"s":"E2","x":0.45,"c":0.9535},{"s":"E2","x":0.46,"c":0.9699},{"s":"E2","x":0.47,"c":0.9812},{"s":"E2","x":0.48,"c":0.9887},{"s":"E2","x":0.49,"c":0.9934},{"s":"E2","x":0.5,"c":0.997},{"s":"E2","x":0.51,"c":1},
{"s":"E3","x":0.252,"c":0.001},{"s":"E3","x":0.26,"c":0.005},{"s":"E3","x":0.268,"c":0.016},{"s":"E3","x":0.277,"c":0.037},{"s":"E3","x":0.283,"c":0.06},{"s":"E3","x":0.289,"c":0.095},{"s":"E3","x":0.295,"c":0.14},{"s":"E3","x":0.3,"c":0.19},{"s":"E3","x":0.305,"c":0.25},{"s":"E3","x":0.31,"c":0.33},
{"s":"E3","x":0.315,"c":0.43},{"s":"E3","x":0.32,"c":0.55},{"s":"E3","x":0.325,"c":0.665},{"s":"E3","x":0.33,"c":0.765},{"s":"E3","x":0.335,"c":0.845},{"s":"E3","x":0.34,"c":0.9},{"s":"E3","x":0.345,"c":0.94},{"s":"E3","x":0.35,"c":0.965},{"s":"E3","x":0.355,"c":0.982},{"s":"E3","x":0.36,"c":0.992},
{"s":"E3","x":0.367,"c":0.998},{"s":"E3","x":0.375,"c":1},{"s":"E3","x":0.38,"c":1}
],
"vl": [
{"s":"E3","x":0.38},{"s":"E2","x":0.51},{"s":"E1","x":0.5875}
],
"ann": [
{"x":0.2966,"y":0.909,"t":"99%"},{"x":0.348,"y":0.061,"t":"0.357"},{"x":0.48,"y":0.289,"t":"0.51"},{"x":0.5604,"y":0.289,"t":"0.58"}
]
},
"config": {
"view": {"stroke": "#1a1a1a", "strokeWidth": 1.5},
"axis": {"grid": false, "domainColor": "#1a1a1a", "domainWidth": 1.5, "tickColor": "#1a1a1a", "tickSize": -5, "tickWidth": 1, "labelColor": "#000000", "labelFont": "Open Sans", "labelFontSize": 16.5, "labelPadding": 14, "labelFlush": false, "labelOverlap": false, "format": "~f", "titleColor": "#000000", "titleFont": "Liberation Serif", "titleFontWeight": "normal", "titleFontSize": 19, "titlePadding": 6},
"axisX": {"labelPadding": 12.75},
"legend": {"orient": "top-right", "offset": 12, "fillColor": "white", "strokeColor": "#000000", "padding": 4, "symbolSize": 16, "symbolStrokeWidth": 1, "symbolFillColor": "transparent", "labelFont": "Liberation Sans", "labelFontSize": 17, "labelOffset": 32, "labelColor": "#000000"},
"title": {"font": "Liberation Serif", "fontWeight": "normal", "color": "#000000"}
}
}
